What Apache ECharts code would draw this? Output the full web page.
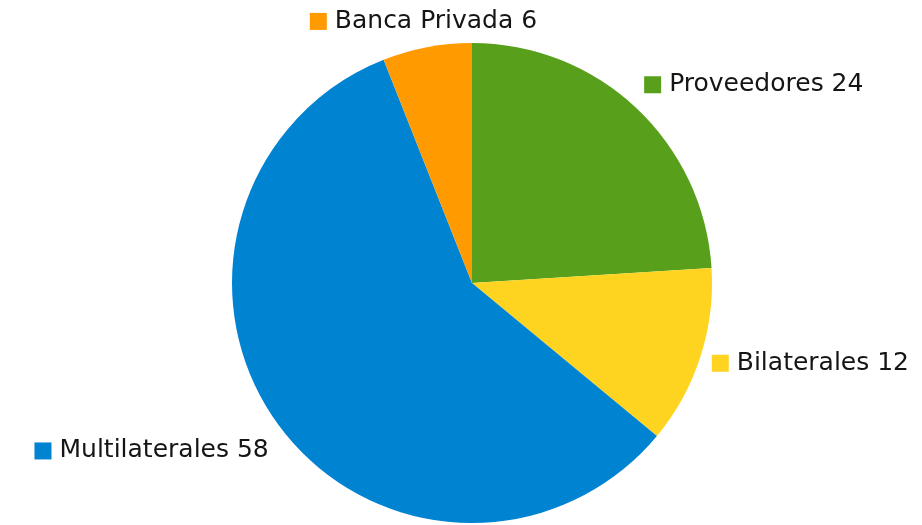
<!DOCTYPE html>
<html>
<head>
<meta charset="utf-8">
<script src="https://cdn.jsdelivr.net/npm/echarts@6/dist/echarts.min.js"></script>
<style>
  html, body { margin: 0; padding: 0; background: #fff; }
  #chart { width: 922px; height: 525px; }
</style>
</head>
<body>
<div id="chart"></div>
<script>
  // data
  var categories = ['Proveedores', 'Bilaterales', 'Multilaterales', 'Banca Privada'];
  var values = [24, 12, 58, 6];
  var colors = ['#58a01c', '#ffd421', '#0083d1', '#ff9a00'];

  // label nudges (dx, dy) so the labels sit like in the original
  var labelShift = [[-4, -16], [-3, 3], [4, 21], [117, -16]];

  var rich = {};
  colors.forEach(function (c, i) {
    rich['m' + i] = { width: 17, height: 17, backgroundColor: c };
  });
  rich.t = { fontSize: 25, color: '#151515', fontFamily: 'DejaVu Sans', padding: [0, 0, 0, 8] };

  var data = categories.map(function (name, i) {
    return { name: name, value: values[i], itemStyle: { color: colors[i] } };
  });

  var myChart = echarts.init(document.getElementById('chart'));
  var option = {
    animation: false,
    series: [{
      type: 'pie',
      center: [472, 283],
      radius: 240,
      startAngle: 90,
      clockwise: true,
      data: data,
      itemStyle: { borderWidth: 0 },
      emphasis: { disabled: true },
      label: {
        show: true,
        position: 'outside',
        formatter: function (p) {
          return '{m' + p.dataIndex + '|}{t|' + p.name + ' ' + p.value + '}';
        },
        rich: rich
      },
      labelLine: { show: false, length: 10, length2: 0 },
      labelLayout: function (p) {
        var s = labelShift[p.dataIndex];
        return { dx: s[0], dy: s[1] };
      }
    }]
  };
  myChart.setOption(option);
</script>
</body>
</html>
